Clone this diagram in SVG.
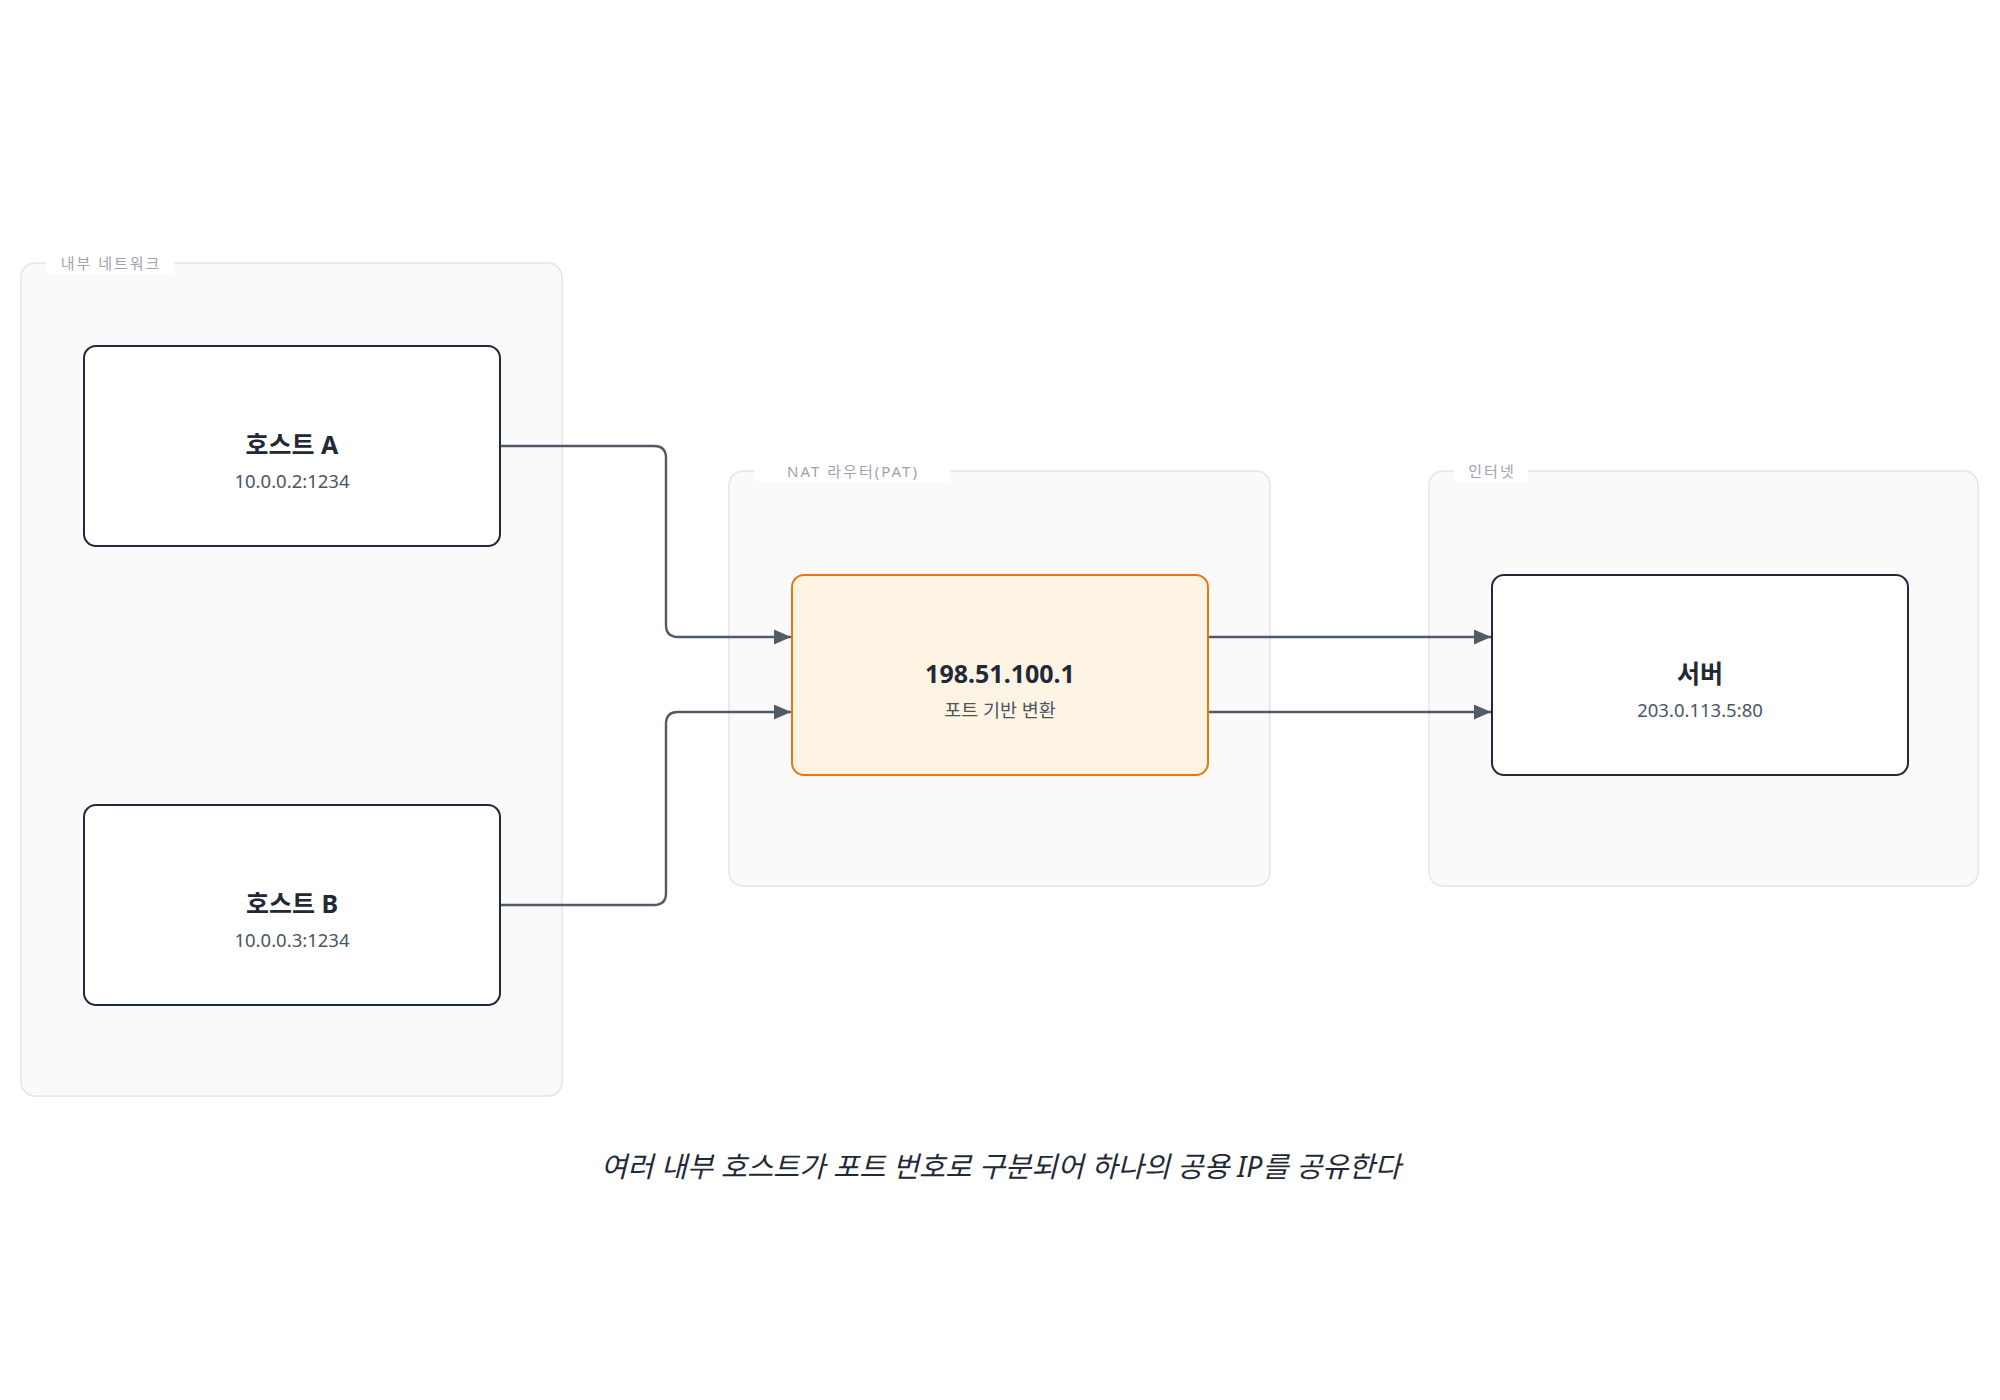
<svg xmlns="http://www.w3.org/2000/svg" width="2000" height="1400" viewBox="0 0 2000 1400">
  <defs>
    <marker id="arrow" viewBox="0 0 17 15" refX="17" refY="7.5" markerWidth="17" markerHeight="15" markerUnits="userSpaceOnUse" orient="auto">
      <path d="M0,0 L17,7.5 L0,15 Z" fill="#525a66"/>
    </marker>
    <style>
      .group { fill: #fafafa; stroke: #e5e5e5; stroke-width: 1.5; }
      .glabel-bg { fill: #ffffff; }
      .glabel { font-family: "Noto Sans", "Noto Sans CJK KR", sans-serif; font-size: 15px; fill: #9ca3af; letter-spacing: 2px; text-anchor: middle; }
      .node { fill: #ffffff; stroke: #1e293b; stroke-width: 2; }
      .node-hl { fill: #fef4e4; stroke: #ea760f; stroke-width: 2; }
      .title { font-family: "Noto Sans", "Noto Sans CJK KR", sans-serif; font-size: 25px; font-weight: bold; fill: #1f2937; text-anchor: middle; }
      .sub { font-family: "Noto Sans", "Noto Sans CJK KR", sans-serif; font-size: 18.5px; fill: #4b5563; text-anchor: middle; }
      .edge { fill: none; stroke: #525a66; stroke-width: 2.4; }
      .caption { font-family: "Noto Sans", "Noto Sans CJK KR", sans-serif; font-size: 28.5px; font-style: italic; fill: #1f2937; text-anchor: middle; }
    </style>
  </defs>
  <rect width="2000" height="1400" fill="#ffffff"/>

  <g id="group-internal">
    <rect class="group" x="21" y="263" width="541" height="833" rx="14"/>
    <rect class="glabel-bg" x="46" y="252" width="128" height="22" rx="4"/>
    <text class="glabel" x="111" y="269">내부 네트워크</text>
  </g>
  <g id="group-nat">
    <rect class="group" x="729" y="471" width="541" height="415" rx="14"/>
    <rect class="glabel-bg" x="755" y="460" width="195" height="22" rx="4"/>
    <text class="glabel" x="853" y="477">NAT 라우터(PAT)</text>
  </g>
  <g id="group-internet">
    <rect class="group" x="1429" y="471" width="549" height="415" rx="14"/>
    <rect class="glabel-bg" x="1454" y="460" width="74" height="22" rx="4"/>
    <text class="glabel" x="1492" y="477">인터넷</text>
  </g>

  <g id="connectors">
    <path class="edge" marker-end="url(#arrow)" d="M500,446 H654 Q666,446 666,458 V625 Q666,637 678,637 H791"/>
    <path class="edge" marker-end="url(#arrow)" d="M500,905 H654 Q666,905 666,893 V724 Q666,712 678,712 H791"/>
    <path class="edge" marker-end="url(#arrow)" d="M1208,637 H1491"/>
    <path class="edge" marker-end="url(#arrow)" d="M1208,712 H1491"/>
  </g>

  <g id="host-a">
    <rect class="node" x="84" y="346" width="416" height="200" rx="12"/>
    <text class="title" x="292" y="454">호스트 A</text>
    <text class="sub" x="292" y="488">10.0.0.2:1234</text>
  </g>
  <g id="host-b">
    <rect class="node" x="84" y="805" width="416" height="200" rx="12"/>
    <text class="title" x="292" y="913">호스트 B</text>
    <text class="sub" x="292" y="947">10.0.0.3:1234</text>
  </g>
  <g id="nat-router">
    <rect class="node-hl" x="792" y="575" width="416" height="200" rx="12"/>
    <text class="title" x="1000" y="683">198.51.100.1</text>
    <text class="sub" x="1000" y="717">포트 기반 변환</text>
  </g>
  <g id="server">
    <rect class="node" x="1492" y="575" width="416" height="200" rx="12"/>
    <text class="title" x="1700" y="683">서버</text>
    <text class="sub" x="1700" y="717">203.0.113.5:80</text>
  </g>

  <text id="caption" class="caption" x="1001" y="1177">여러 내부 호스트가 포트 번호로 구분되어 하나의 공용 IP를 공유한다</text>
</svg>
